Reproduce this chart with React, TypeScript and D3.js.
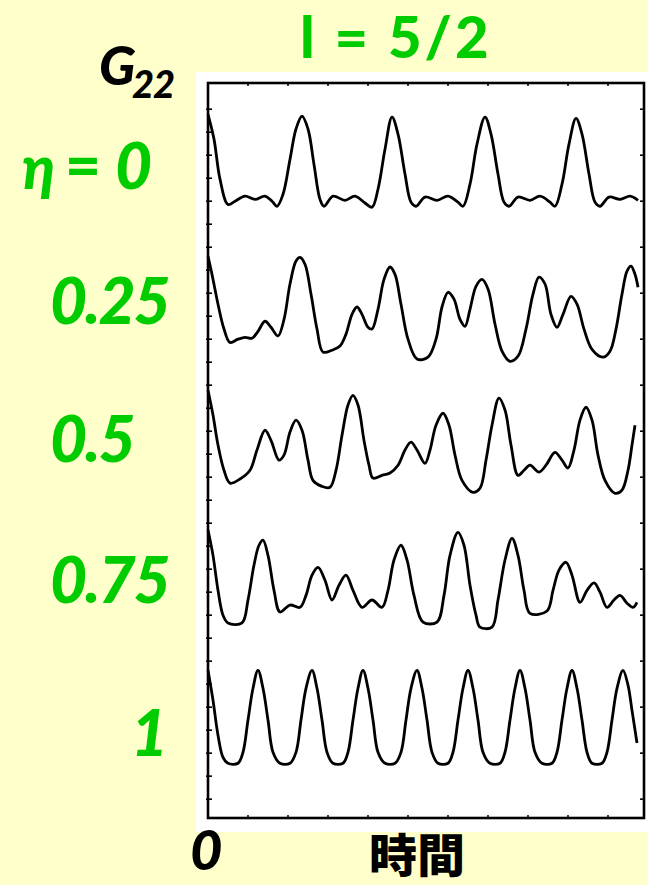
import React from "react";
import * as d3 from "d3";

// time (arbitrary units) and G22 (local, relative to each trace's baseline)
const eta0: [number, number][] = [
  [0, 1.89], [1.5, 1.35], [3, 0.48], [5, -0.07], [6.75, 0], [9.25, 0.11], [11.75, 0.04], [14.25, 0.11], [16, 0], [17.25, -0.11],
  [18.75, 0.15], [20.5, 0.91], [22, 1.57], [23.5, 1.85], [25, 1.57], [26.5, 0.8], [28, 0.04], [29, -0.11], [31.25, 0.11], [34.25, 0.02],
  [36.75, 0.11], [39.25, -0.04], [41, -0.13], [42.5, 0.26], [44.25, 1.13], [46, 1.83], [47.5, 1.46], [49.25, 0.59], [50.75, -0.02], [52, -0.11],
  [54.25, 0.09], [57.25, 0.02], [60, 0.11], [62.5, -0.02], [63.75, -0.11], [65.5, 0.37], [67.25, 1.24], [69.25, 1.83], [70.75, 1.46], [72.5, 0.59],
  [74, -0.02], [75.25, -0.11], [77.5, 0.09], [80.5, 0.02], [83, 0.11], [85.5, -0.02], [86.75, -0.11], [88.5, 0.37], [90.25, 1.24], [92, 1.8],
  [93.5, 1.46], [95.25, 0.59], [96.75, -0.02], [98, -0.11], [100.25, 0.09], [103, 0.04], [105.5, 0.11], [107.5, 0.02],
];

const eta025: [number, number][] = [
  [0, 1.8], [1, 1.41], [2.5, 0.76], [4, 0.22], [5.5, -0.07], [7.5, 0], [9.25, 0.04], [11, 0.02], [12.5, 0.17], [14.25, 0.39],
  [15.75, 0.26], [17.5, 0.07], [19, 0.43], [20.5, 1.2], [22, 1.7], [23, 1.78], [24.25, 1.63], [25.75, 0.98], [27.25, 0.22], [28.75, -0.28],
  [31, -0.24], [33, -0.15], [34.5, 0.11], [36, 0.54], [37.25, 0.7], [38.5, 0.54], [40, 0.26], [41, 0.22], [42.5, 0.65], [44, 1.3],
  [45.5, 1.57], [46.75, 1.41], [48.25, 0.76], [50, 0], [52.25, -0.43], [55, -0.39], [57, 0], [58.5, 0.7], [60, 1.02], [61.5, 0.87],
  [63, 0.43], [64.25, 0.28], [65.5, 0.65], [67, 1.15], [68.5, 1.3], [70, 1.09], [71.75, 0.33], [73.5, -0.26], [75.5, -0.48], [77.5, -0.37],
  [79.5, 0.22], [81.25, 0.98], [82.75, 1.35], [84.25, 1.2], [85.75, 0.54], [87.25, 0.26], [88.75, 0.54], [90.75, 0.93], [92.25, 0.76], [94, 0.22],
  [96, -0.22], [98.75, -0.39], [100.5, -0.26], [102, 0.22], [103.5, 0.98], [104.75, 1.48], [105.75, 1.59], [106.75, 1.41], [107.5, 1.13],
];

const eta05: [number, number][] = [
  [0, 1.89], [1.25, 1.35], [2.5, 0.7], [4, 0.15], [5.5, -0.13], [8, -0.04], [10.5, 0.15], [12.25, 0.59], [14.25, 1.02], [15.75, 0.8],
  [17.75, 0.37], [19, 0.48], [20.5, 0.98], [22, 1.24], [23.5, 1.02], [25, 0.37], [26.25, -0.07], [28.5, -0.2], [30.5, -0.22], [32, 0.15],
  [33.5, 0.91], [35, 1.57], [36.25, 1.78], [37.5, 1.57], [39, 0.8], [40.25, 0.26], [41.25, -0.02], [43.5, 0.04], [45.5, 0.09], [47.5, 0.26],
  [49.25, 0.59], [50.75, 0.76], [52.25, 0.59], [54.25, 0.3], [55.5, 0.59], [57, 1.13], [58.75, 1.39], [60.25, 1.13], [61.75, 0.48], [63.5, -0.07],
  [66.25, -0.33], [68, -0.24], [69.5, 0.37], [71, 1.13], [72.75, 1.72], [74.25, 1.46], [75.75, 0.7], [77.5, 0.04], [79, 0.15], [80.5, 0.26],
  [82.75, 0.11], [84.5, 0.26], [86.75, 0.54], [88.5, 0.37], [90, 0.2], [91.5, 0.59], [93, 1.24], [94.5, 1.52], [96, 1.24], [97.5, 0.48],
  [99.25, -0.07], [101.75, -0.35], [103.5, -0.28], [105, 0.15], [106, 0.7], [106.75, 1.13],
];

const eta075: [number, number][] = [
  [0, 1.85], [1.25, 1.3], [2.5, 0.54], [3.75, 0], [5, -0.17], [8.5, -0.17], [10, 0.33], [11.5, 1.09], [12.75, 1.52], [13.75, 1.63],
  [15, 1.3], [16.5, 0.54], [18, 0.07], [20.5, 0.22], [23, 0.17], [24.5, 0.43], [26, 0.87], [27.5, 1.04], [29.25, 0.76], [31, 0.33],
  [32.75, 0.65], [34.5, 0.87], [36.25, 0.54], [38.5, 0.17], [41, 0.33], [43.5, 0.17], [45, 0.54], [46.5, 1.2], [48.25, 1.52], [49.75, 1.2],
  [51.5, 0.43], [53.75, -0.15], [57.25, -0.15], [59, 0.43], [60.5, 1.3], [62.5, 1.8], [64, 1.52], [65.5, 0.65], [67, 0], [68, -0.26],
  [71, -0.26], [72.5, 0.33], [74.25, 1.2], [76, 1.67], [77.5, 1.3], [79, 0.54], [80.5, 0.04], [84.75, 0.09], [86.25, 0.54], [87.75, 0.98],
  [89.5, 1.15], [91, 0.87], [93, 0.28], [94.75, 0.54], [96.5, 0.7], [98, 0.5], [99.75, 0.17], [101.5, 0.33], [103, 0.43], [104.75, 0.26],
  [106.25, 0.17], [107.25, 0.28],
];

const eta1: [number, number][] = [
  [0, 1.8], [1.25, 1.15], [2.5, 0.39], [3.75, -0.09], [5, -0.22], [7.5, -0.22], [8.75, 0.02], [10, 0.72], [11.25, 1.41], [12.5, 1.8],
  [13.75, 1.41], [15, 0.72], [16.25, 0.02], [18, -0.22], [20.5, -0.22], [22, 0.02], [23.25, 0.72], [24.5, 1.41], [26, 1.8], [27.25, 1.41],
  [28.5, 0.72], [29.75, 0.02], [31.25, -0.22], [33.75, -0.22], [35, 0.02], [36.25, 0.72], [37.5, 1.41], [38.75, 1.8], [40, 1.41], [41.25, 0.72],
  [42.5, 0.02], [44.25, -0.22], [46.75, -0.22], [48.25, 0.02], [49.5, 0.72], [50.75, 1.41], [52.25, 1.8], [53.5, 1.41], [54.75, 0.72], [56, 0.02],
  [57.5, -0.22], [60, -0.22], [61.25, 0.02], [62.5, 0.72], [63.75, 1.41], [65, 1.8], [66.25, 1.41], [67.5, 0.72], [68.75, 0.02], [70.5, -0.22],
  [73, -0.22], [74.25, 0.02], [75.5, 0.72], [76.75, 1.41], [78, 1.8], [79.25, 1.41], [80.5, 0.72], [81.75, 0.02], [83.5, -0.22], [86, -0.22],
  [87.25, 0.02], [88.5, 0.72], [89.75, 1.41], [91, 1.8], [92.25, 1.41], [93.5, 0.72], [94.75, 0.02], [96, -0.22], [98.5, -0.22], [99.75, 0.02],
  [101, 0.72], [102.25, 1.41], [103.75, 1.8], [105, 1.48], [106, 0.93], [107.25, 0.22],
];

const seriesList = [eta0, eta025, eta05, eta075, eta1];
const offsets = [13, 10, 7, 4, 1];
const etaLabels = ["0", "0.25", "0.5", "0.75", "1"];
const leftTicks = d3.range(0, 15.5, 0.5);
const rightTicks = d3.range(0, 16, 1);
const timeTicks = d3.range(0, 110, 10);

const W = 648;
const H = 885;
const GREEN = "#00cc00";
const FONT = "Lato, 'DejaVu Sans', sans-serif";

export default function App() {
  const x = d3.scaleLinear().domain([0, 109]).range([208, 644]);
  const y = d3.scaleLinear().domain([-0.41, 15.57]).range([818, 83]);
  const line = (off: number) =>
    d3
      .line<[number, number]>()
      .x((d) => x(d[0]))
      .y((d) => y(d[1] + off))
      .curve(d3.curveCatmullRom.alpha(0.5));

  const labelPos = [
    { x: 115, y: 189 },
    { x: 50, y: 324 },
    { x: 50, y: 462 },
    { x: 50, y: 603 },
    { x: 131, y: 756 },
  ];

  return (
    <svg
      width={W}
      height={H}
      style={{ position: "absolute", left: 0, top: 0, display: "block" }}
    >
      <rect x={0} y={0} width={W} height={H} fill="#ffffcc" />
      <rect x={196} y={72} width={W - 196} height={760} fill="#ffffff" />

      {/* frame */}
      <rect
        x={x(0)}
        y={y(15.57)}
        width={x(109) - x(0)}
        height={y(-0.41) - y(15.57)}
        fill="none"
        stroke="#000"
        strokeWidth={2.6}
      />
      {leftTicks.map((t) => (
        <line key={"l" + t} x1={x(0) - 2} x2={x(0) + 4} y1={y(t)} y2={y(t)} stroke="#000" strokeWidth={1.6} />
      ))}
      {rightTicks.map((t) => (
        <line key={"r" + t} x1={x(109) - 4} x2={x(109) + 1} y1={y(t)} y2={y(t)} stroke="#000" strokeWidth={1.6} />
      ))}
      {timeTicks.map((t) => (
        <g key={"t" + t}>
          <line x1={x(t)} x2={x(t)} y1={y(15.57)} y2={y(15.57) + 3} stroke="#000" strokeWidth={1.5} />
          <line x1={x(t)} x2={x(t)} y1={y(-0.41)} y2={y(-0.41) - 3} stroke="#000" strokeWidth={1.5} />
        </g>
      ))}

      {/* traces */}
      {seriesList.map((s, i) => (
        <path
          key={i}
          d={line(offsets[i])(s) || ""}
          fill="none"
          stroke="#000"
          strokeWidth={2.8}
          strokeLinejoin="round"
        />
      ))}

      {/* labels */}
      <text x={22} y={189} fill={GREEN} fontFamily={FONT} fontWeight={900} fontStyle="italic" fontSize={60}>
        η
      </text>
      <text x={65} y={187} fill={GREEN} fontFamily={FONT} fontWeight={900} fontSize={62}>
        =
      </text>
      {etaLabels.map((lab, i) => (
        <text
          key={lab}
          x={labelPos[i].x}
          y={labelPos[i].y}
          fill={GREEN}
          fontFamily={FONT}
          fontWeight={900}
          fontStyle="italic"
          fontSize={64}
          letterSpacing={-2}
        >
          {lab}
        </text>
      ))}

      <text x={300} y={58} fill={GREEN} fontFamily={FONT} fontWeight={900} fontSize={58} letterSpacing={3}>
        l = 5/2
      </text>

      <text x={99} y={85} fill="#000" fontFamily={FONT} fontWeight={900} fontStyle="italic" fontSize={54}>
        G
      </text>
      <text x={132} y={98} fill="#000" fontFamily={FONT} fontWeight={900} fontStyle="italic" fontSize={38} letterSpacing={-1}>
        22
      </text>

      <text x={190} y={870} fill="#000" fontFamily={FONT} fontWeight={900} fontStyle="italic" fontSize={56}>
        0
      </text>
      <text
        x={369}
        y={872}
        fill="#000"
        fontFamily="'Noto Sans CJK JP', sans-serif"
        fontWeight={900}
        fontSize={46}
        textLength={96}
        lengthAdjust="spacingAndGlyphs"
      >
        時間
      </text>
    </svg>
  );
}
